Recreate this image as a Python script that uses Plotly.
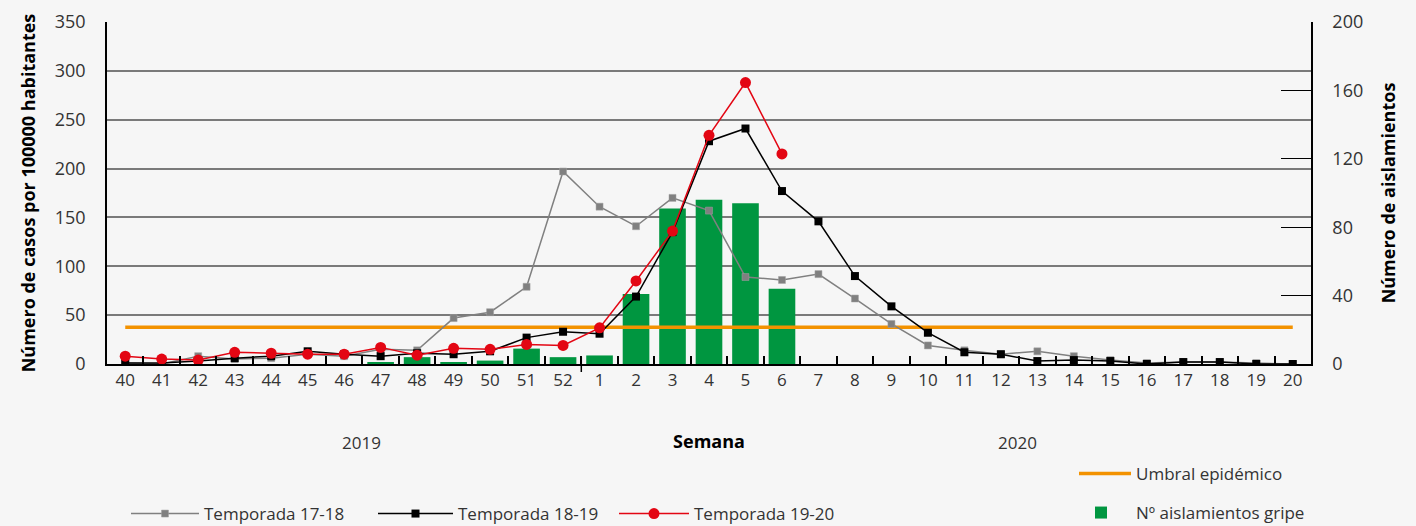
import plotly.graph_objects as go

weeks = ["40", "41", "42", "43", "44", "45", "46", "47", "48", "49", "50", "51", "52",
         "1", "2", "3", "4", "5", "6", "7", "8", "9", "10", "11", "12", "13", "14",
         "15", "16", "17", "18", "19", "20"]

temporada_17_18 = [1, 0, 8, 5, 6, 10, 8, 15, 14, 47, 53, 79, 197,
                   161, 141, 170, 157, 89, 86, 92, 67, 41, 19, 14, 10, 13, 8,
                   4, 1, 2, 2, 1, 0]
temporada_18_19 = [1, 1, 3, 6, 8, 13, 10, 8, 11, 10, 13, 27, 33,
                   31, 69, 135, 228, 241, 177, 146, 90, 59, 32, 12, 10, 3, 4,
                   3, 0, 2, 2, 0, 0]
temporada_19_20 = [8, 5, 4, 12, 11, 10, 10, 17, 9, 16, 15, 20, 19,
                   37, 85, 136, 234, 288, 215]
aislamientos = [0, 0, 0, 0, 0, 0, 0, 1, 4, 1, 2, 9, 4,
                5, 41, 91, 96, 94, 44, 0, 0, 0, 0, 0, 0, 0, 0,
                0, 0, 0, 0, 0, 0]
umbral = [37.5] * len(weeks)

FONT = "Open Sans"
TXT = "#333333"

fig = go.Figure()

fig.add_trace(go.Bar(
    x=weeks, y=aislamientos, name="Nº aislamientos gripe",
    marker=dict(color="#009640", line=dict(width=0)), width=0.73,
    yaxis="y", legend="legend5"))

fig.add_trace(go.Scatter(
    x=weeks, y=umbral, name="Umbral epidémico", mode="lines",
    line=dict(color="#f39200", width=3.5), yaxis="y2", legend="legend4"))

fig.add_trace(go.Scatter(
    x=weeks, y=temporada_17_18, name="Temporada 17-18", mode="lines+markers",
    line=dict(color="#808080", width=1.5),
    marker=dict(symbol="square", size=7, color="#808080",
                line=dict(color="#a0a0a0", width=0.5)),
    yaxis="y2", legend="legend"))

fig.add_trace(go.Scatter(
    x=weeks, y=temporada_18_19, name="Temporada 18-19", mode="lines+markers",
    line=dict(color="#000000", width=1.5),
    marker=dict(symbol="square", size=8, color="#000000"),
    yaxis="y2", legend="legend2"))

fig.add_trace(go.Scatter(
    x=weeks[:len(temporada_19_20)], y=temporada_19_20, name="Temporada 19-20",
    mode="lines+markers",
    line=dict(color="#e30613", width=1.5),
    marker=dict(symbol="circle", size=11, color="#e30613"),
    yaxis="y2", legend="legend3"))

W, H = 1416, 526
L, R, T, B = 107, 105, 22, 162
pw, ph = W - L - R, H - T - B


def px_x(p):
    return (p - L) / pw


def px_y(p):
    return (H - B - p) / ph


def leg(xpx, ypx, iw):
    return dict(orientation="h", bgcolor="rgba(0,0,0,0)", borderwidth=0,
                font=dict(family=FONT, size=17, color=TXT),
                xanchor="left", yanchor="middle", itemwidth=iw,
                x=px_x(xpx), y=px_y(ypx))


fig.update_layout(
    width=W, height=H,
    margin=dict(l=L, r=R, t=T, b=B, autoexpand=False),
    paper_bgcolor="#f6f6f6", plot_bgcolor="#f6f6f6",
    font=dict(family=FONT, size=17, color=TXT),
    showlegend=True,
    xaxis=dict(
        type="category", range=[-0.5, 32.5],
        showline=True, linecolor="#000000", linewidth=2,
        ticks="inside", tickson="boundaries", ticklen=8, tickcolor="#000000",
        tickwidth=1.5, showgrid=False,
        tickfont=dict(family=FONT, size=17, color=TXT),
        title=dict(text="<b>Semana</b>", font=dict(family=FONT, size=18, color="#000000"),
                   standoff=45),
    ),
    yaxis=dict(
        side="right", range=[0, 200], tick0=0, dtick=40,
        showgrid=False, zeroline=False,
        showline=True, linecolor="#000000", linewidth=1.5,
        ticks="inside", ticklen=30, tickcolor="#000000", tickwidth=1.2,
        ticklabelstandoff=16,
        tickfont=dict(family=FONT, size=18, color=TXT),
        title=dict(text="<b>Número de aislamientos</b>",
                   font=dict(family=FONT, size=18, color="#000000"), standoff=20),
    ),
    yaxis2=dict(
        side="left", overlaying="y", range=[0, 350], tick0=0, dtick=50,
        showgrid=True, gridcolor="#7a7a7a", gridwidth=1.5, zeroline=False,
        showline=True, linecolor="#000000", linewidth=1.5,
        ticks="", ticklabelstandoff=16,
        tickfont=dict(family=FONT, size=18, color=TXT),
        title=dict(text="<b>Número de casos por 100000 habitantes</b>",
                   font=dict(family=FONT, size=18, color="#000000"), standoff=14),
    ),
    legend=leg(126, 514, 68),
    legend2=leg(373, 514, 75),
    legend3=leg(614, 514, 70),
    legend4=leg(1074, 474, 52),
    legend5=leg(1066, 513, 60),
    annotations=[
        dict(text="2019", x=px_x(361), y=px_y(443), xref="paper", yref="paper",
             xanchor="center", yanchor="middle",
             showarrow=False, font=dict(family=FONT, size=17, color=TXT)),
        dict(text="2020", x=px_x(1017), y=px_y(443), xref="paper", yref="paper",
             xanchor="center", yanchor="middle",
             showarrow=False, font=dict(family=FONT, size=17, color=TXT)),
    ],
    shapes=[
        dict(type="line", xref="x", yref="paper", x0=12.5, x1=12.5,
             y0=px_y(357), y1=px_y(372), line=dict(color="#000000", width=1.5)),
    ],
)

fig.write_html("out.html", config={"displayModeBar": False},
               post_script="document.body.style.margin='0';")
